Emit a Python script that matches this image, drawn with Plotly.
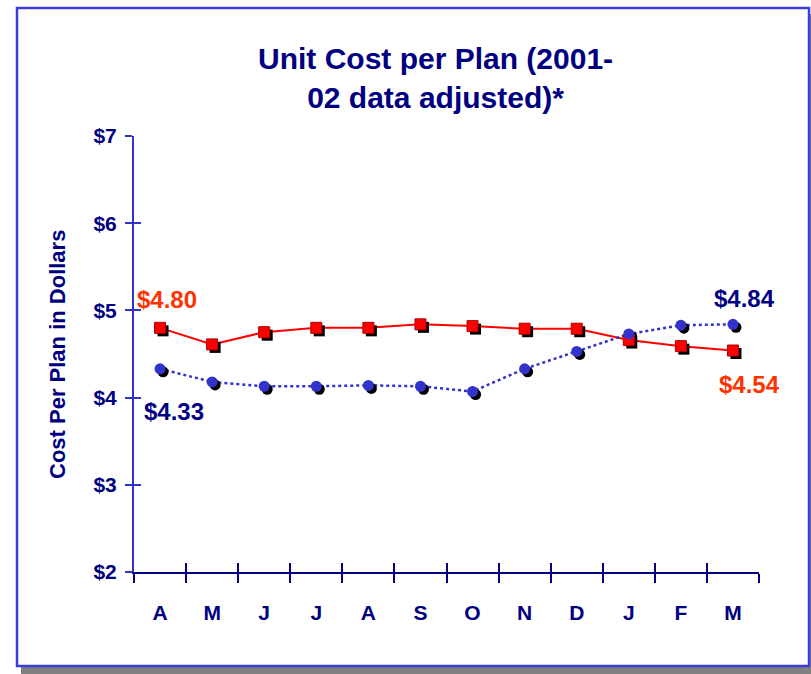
import plotly.graph_objects as go

months = ["A", "M", "J", "J", "A", "S", "O", "N", "D", "J", "F", "M"]
cost_2002 = [4.80, 4.61, 4.75, 4.80, 4.80, 4.84, 4.82, 4.79, 4.79, 4.66, 4.59, 4.54]
cost_2001 = [4.33, 4.18, 4.13, 4.13, 4.14, 4.13, 4.07, 4.33, 4.53, 4.73, 4.83, 4.84]
y_ticks = [2, 3, 4, 5, 6, 7]

idx = list(range(len(months)))
bounds = [i - 0.5 for i in range(len(months) + 1)]

W, H = 811, 674
L, R, T, B = 134, 52, 136, 102
PW, PH = W - L - R, H - T - B
XR = [-0.5, len(months) - 0.5]
YR = [y_ticks[0], y_ticks[-1]]
px_x = (XR[1] - XR[0]) / PW
px_y = (YR[1] - YR[0]) / PH
SH = 3  # shadow offset in pixels

NAVY = "#000080"
BLUE = "#3333cc"
RED = "#ff0000"
ORANGE = "#ff3300"
FONT = "Liberation Sans, Arial, sans-serif"

fig = go.Figure()
# lines (bottom layer)
fig.add_trace(go.Scatter(x=idx, y=cost_2002, mode="lines",
                         line=dict(color=RED, width=2), xaxis="x", yaxis="y", hoverinfo="skip"))
fig.add_trace(go.Scatter(x=idx, y=cost_2001, mode="lines",
                         line=dict(color=BLUE, width=2.5, dash="dot"), xaxis="x", yaxis="y", hoverinfo="skip"))
# shadows
fig.add_trace(go.Scatter(x=idx, y=cost_2002, mode="markers",
                         marker=dict(symbol="square", size=11, color="black"), xaxis="x2", yaxis="y2"))
fig.add_trace(go.Scatter(x=idx, y=cost_2001, mode="markers",
                         marker=dict(symbol="circle", size=11, color="black"), xaxis="x2", yaxis="y2"))
# markers
fig.add_trace(go.Scatter(x=idx, y=cost_2002, mode="markers",
                         marker=dict(symbol="square", size=11, color=RED, line=dict(color="#b00000", width=1)),
                         xaxis="x3", yaxis="y3"))
fig.add_trace(go.Scatter(x=idx, y=cost_2001, mode="markers",
                         marker=dict(symbol="circle", size=11, color=BLUE, line=dict(color=BLUE, width=0)),
                         xaxis="x3", yaxis="y3"))

hidden = dict(showline=False, showgrid=False, zeroline=False, showticklabels=False, ticks="")

fig.update_layout(
    width=W, height=H,
    margin=dict(l=L, r=R, t=T, b=B),
    paper_bgcolor="white", plot_bgcolor="rgba(0,0,0,0)",
    showlegend=False,
    font=dict(family=FONT, color=NAVY),
    xaxis=dict(range=XR, tickmode="array", tickvals=idx, ticktext=months, ticks="",
               showline=True, linecolor=NAVY, linewidth=2, showgrid=False, zeroline=False,
               tickfont=dict(size=21, color=NAVY, family=FONT, weight="bold"),
               ticklabelstandoff=21,
               minor=dict(tickmode="array", tickvals=bounds, ticks="outside", ticklen=9,
                          tickwidth=2, tickcolor=NAVY, showgrid=False)),
    yaxis=dict(range=YR, tickmode="array", tickvals=y_ticks, ticktext=[f"${v}" for v in y_ticks],
               ticks="outside", ticklen=7, tickwidth=2, tickcolor=BLUE,
               showline=True, linecolor=BLUE, linewidth=2, showgrid=False, zeroline=False,
               tickfont=dict(size=21, color=NAVY, family=FONT, weight="bold"),
               ticklabelstandoff=4),
    xaxis2=dict(overlaying="x", anchor="y2", range=[XR[0] - SH * px_x, XR[1] - SH * px_x], **hidden),
    yaxis2=dict(overlaying="y", anchor="x2", range=[YR[0] + SH * px_y, YR[1] + SH * px_y], **hidden),
    xaxis3=dict(overlaying="x", anchor="y3", range=XR, tickmode="array", tickvals=bounds,
                ticks="inside", ticklen=9, tickwidth=2, tickcolor=NAVY,
                showticklabels=False, showline=False, showgrid=False, zeroline=False),
    yaxis3=dict(overlaying="y", anchor="x3", range=YR, tickmode="array", tickvals=y_ticks,
                ticks="inside", ticklen=7, tickwidth=2, tickcolor=BLUE,
                showticklabels=False, showline=False, showgrid=False, zeroline=False),
)

def fx(p):
    return (p - L) / PW

def fy(p):
    return (H - B - p) / PH

# frame with drop shadow
fig.add_shape(type="rect", xref="paper", yref="paper", layer="below",
              x0=fx(21), x1=fx(816), y0=fy(680), y1=fy(14),
              fillcolor="#808080", line=dict(width=0))
fig.add_shape(type="rect", xref="paper", yref="paper", layer="below",
              x0=fx(17), x1=fx(809), y0=fy(666), y1=fy(8),
              fillcolor="white", line=dict(color="#3c3cd8", width=2.5))

fig.add_annotation(text="Unit Cost per Plan (2001-<br>02 data adjusted)*",
                   xref="paper", yref="paper", x=fx(435), y=fy(78),
                   xanchor="center", yanchor="middle", showarrow=False,
                   font=dict(size=30, color=NAVY, family=FONT, weight="bold"))
fig.add_annotation(text="Cost Per Plan in Dollars", textangle=-90,
                   xref="paper", yref="paper", x=fx(57), y=fy(355),
                   xanchor="center", yanchor="middle", showarrow=False,
                   font=dict(size=22, color=NAVY, family=FONT, weight="bold"))

labels = [
    (0, cost_2002[0], ORANGE, 7, 28),
    (0, cost_2001[0], NAVY, 14, -43),
    (11, cost_2001[11], NAVY, 12, 26),
    (11, cost_2002[11], ORANGE, 17, -34),
]
for xi, v, c, xs, ys in labels:
    fig.add_annotation(text=f"${v:.2f}", xref="x", yref="y", x=xi, y=v,
                       xshift=xs, yshift=ys, showarrow=False,
                       xanchor="center", yanchor="middle",
                       font=dict(size=24, color=c, family=FONT, weight="bold"))

fig.write_html("out.html", config={"displayModeBar": False},
               post_script="document.body.style.margin='0';document.body.style.overflow='hidden';")
